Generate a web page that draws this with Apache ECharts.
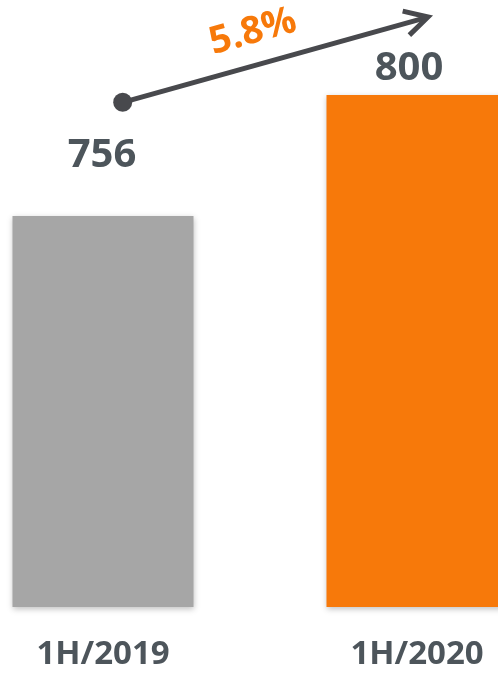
<!DOCTYPE html>
<html>
<head>
<meta charset="utf-8">
<script src="https://cdn.jsdelivr.net/npm/echarts@6/dist/echarts.min.js"></script>
<style>
  html, body { margin: 0; padding: 0; background: #fff; overflow: hidden; }
  /* canvas wider than the window so the two category bands land where the bars sit */
  #chart { width: 628px; height: 676px; margin-left: -54px; }
</style>
</head>
<body>
<div id="chart"></div>
<script>
// half-year totals
const periods = ['1H/2019', '1H/2020']
const totals = [756, 800]
const barColors = ['#a6a6a6', '#f7790a']
const growthLabel = '5.8%'

const textDark = '#4d555b'
const dx = 54 // canvas offset against the window

const chart = echarts.init(document.getElementById('chart'))

// label tweaks per bar (distance above the bar top, horizontal nudge)
const labelDistance = [41, 6]
const labelShift = [-1, -8]

chart.setOption({
  animation: false,
  grid: { left: 0, right: 0, top: 95, bottom: 69 },
  xAxis: {
    type: 'category',
    data: periods,
    axisLine: { show: false },
    axisTick: { show: false },
    axisLabel: {
      margin: 31,
      fontFamily: 'Open Sans',
      fontWeight: 'bold',
      fontSize: 33,
      color: textDark
    }
  },
  yAxis: {
    type: 'value',
    min: 614,
    max: 800,
    show: false,
    splitLine: { show: false }
  },
  series: [{
    type: 'bar',
    barWidth: 181,
    data: totals.map((v, i) => ({
      value: v,
      itemStyle: { color: barColors[i] },
      label: { distance: labelDistance[i], offset: [labelShift[i], 0] }
    })),
    itemStyle: {
      shadowBlur: 6,
      shadowOffsetY: 2,
      shadowColor: 'rgba(0,0,0,0.25)'
    },
    label: {
      show: true,
      position: 'top',
      fontFamily: 'Open Sans',
      fontWeight: 'bold',
      fontSize: 40,
      color: textDark
    }
  }]
})

// growth arrow annotation (window coordinates, shifted onto the canvas)
const start = [122.7 + dx, 102.3]
const tip = [428 + dx, 17]
const ang = Math.atan2(tip[1] - start[1], tip[0] - start[0])
const armLen = 26
const armAng = 0.5
const armA = [tip[0] - armLen * Math.cos(ang - armAng), tip[1] - armLen * Math.sin(ang - armAng)]
const armB = [tip[0] - armLen * Math.cos(ang + armAng), tip[1] - armLen * Math.sin(ang + armAng)]
const arrowColor = '#48494d'

chart.setOption({
  graphic: [
    {
      type: 'line',
      shape: { x1: start[0], y1: start[1], x2: tip[0] - 2 * Math.cos(ang), y2: tip[1] - 2 * Math.sin(ang) },
      style: { stroke: arrowColor, lineWidth: 5 }
    },
    {
      type: 'polyline',
      shape: { points: [armA, tip, armB] },
      style: { stroke: arrowColor, lineWidth: 5, fill: null, lineJoin: 'miter', lineCap: 'butt' }
    },
    {
      type: 'circle',
      shape: { cx: start[0], cy: start[1], r: 9.5 },
      style: { fill: arrowColor }
    },
    {
      type: 'text',
      x: 253 + dx,
      y: 32,
      rotation: -ang,
      style: {
        text: growthLabel,
        x: 0,
        y: 0,
        align: 'center',
        verticalAlign: 'middle',
        fontFamily: 'Open Sans',
        fontWeight: 'bold',
        fontSize: 38,
        fill: '#f7790a'
      }
    }
  ]
})
</script>
</body>
</html>
